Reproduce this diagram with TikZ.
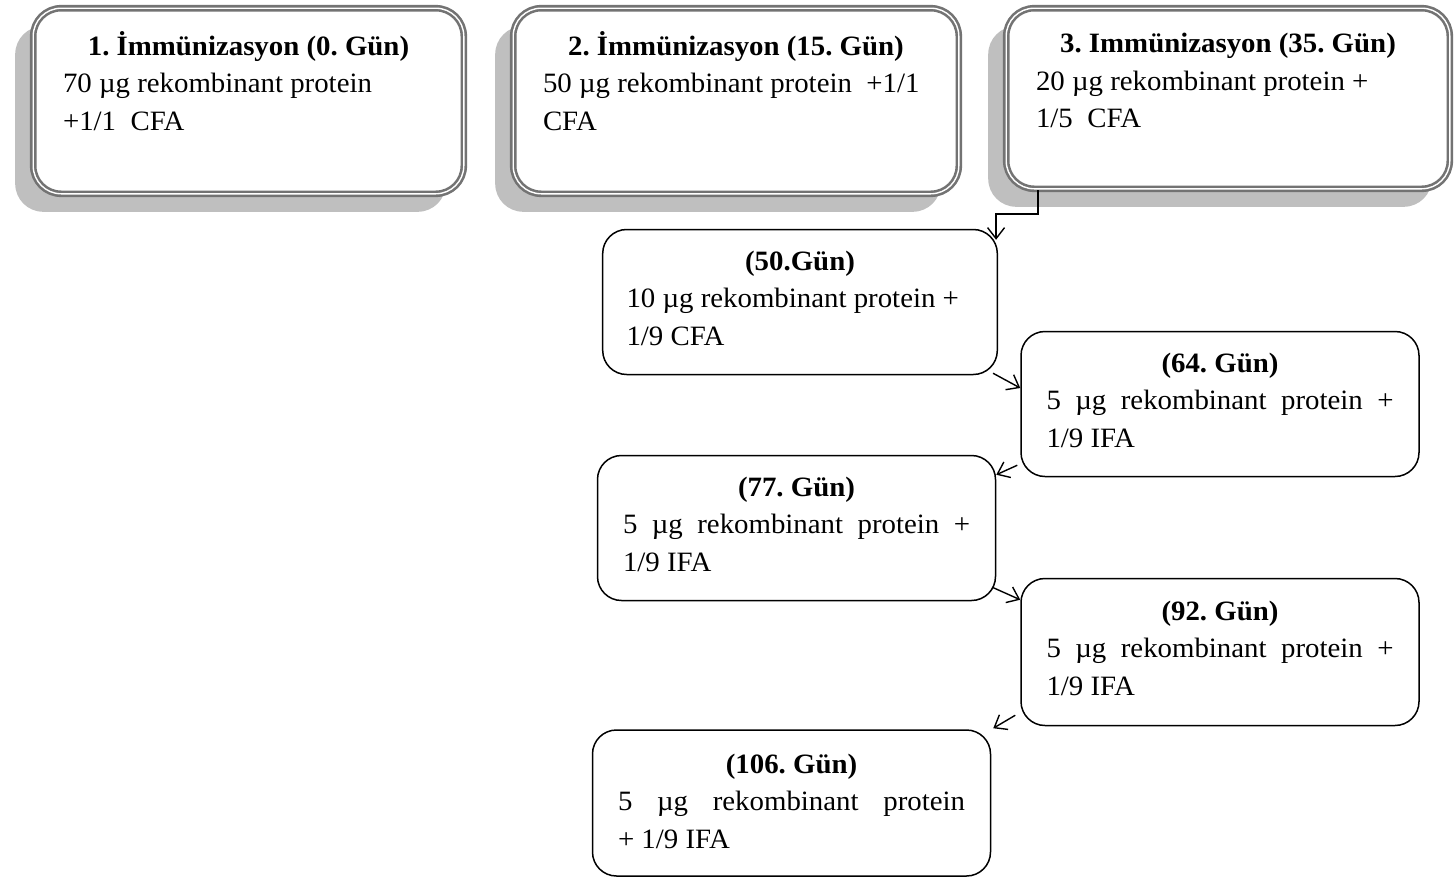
\documentclass[tikz,border=0pt]{standalone}
\usepackage{fontspec}
\setmainfont[FakeStretch=1.03]{Liberation Serif}
\usetikzlibrary{arrows.meta, shadows}
\frenchspacing
\tikzset{
    % first three doses: double grey frame with a shadow to the lower left
    dose main/.style={
        rectangle,
        rounded corners=28pt,
        draw=black!55,
        double=white,
        double distance=1.4pt,
        line width=2.6pt,
        fill=white,
        general shadow={shadow xshift=-18pt, shadow yshift=-18pt, fill=black!25},
        inner sep=0pt,
        minimum height=185.6pt,
        font=\fontsize{28pt}{37.5pt}\selectfont
    },
    % booster doses: plain black frame
    dose/.style={
        rectangle,
        rounded corners=24pt,
        draw=black,
        line width=1.5pt,
        fill=white,
        inner sep=0pt,
        minimum width=398pt,
        minimum height=145pt,
        font=\fontsize{28pt}{37.5pt}\selectfont
    },
    arrow style/.style={
        -{Straight Barb[length=11pt, width=17pt]},
        line width=1.4pt,
        black
    }
}

\begin{document}
\begin{tikzpicture}[x=1pt, y=-1pt]
        \useasboundingbox (0,0) rectangle (1455,878);

        % Immunization boxes at top
        \node[dose main, minimum width=430.6pt] (imm1) at (248.5, 101) {
            \parbox[c][144pt][t]{371pt}{\centering\strut\textbf{1. İmmünizasyon (0. Gün)}\par\raggedright
            70 µg rekombinant protein\\
            +1/1~~CFA}
        };

        \node[dose main, minimum width=445.6pt] (imm2) at (736, 101) {
            \parbox[c][144pt][t]{386pt}{\centering\strut\textbf{2. İmmünizasyon (15. Gün)}\par\raggedright
            50 µg rekombinant protein~~+1/1\\
            CFA}
        };

        \node[dose main, minimum width=443.6pt, minimum height=180.6pt] (imm3) at (1228, 98.5) {
            \parbox[c][144pt][t]{384pt}{\centering\strut\textbf{3. Immünizasyon (35. Gün)}\par\raggedright
            20 µg rekombinant protein +\\
            1/5~~CFA}
        };

        % Booster doses
        \node[dose, minimum width=394.6pt] (day50) at (800, 302) {
            \parbox[c][116pt][t]{347pt}{\centering\strut\textbf{(50.Gün)}\par\raggedright
            10 µg rekombinant protein +\\
            1/9 CFA}
        };

        \node[dose] (day64) at (1220, 404) {
            \parbox[c][116pt][t]{347pt}{\centering\strut\textbf{(64. Gün)}\par\raggedright
            \makebox[\linewidth][s]{5 µg rekombinant protein +}\\
            1/9 IFA}
        };

        \node[dose] (day77) at (796.5, 528) {
            \parbox[c][116pt][t]{347pt}{\centering\strut\textbf{(77. Gün)}\par\raggedright
            \makebox[\linewidth][s]{5 µg rekombinant protein +}\\
            1/9 IFA}
        };

        \node[dose, minimum height=147pt] (day92) at (1220, 652) {
            \parbox[c][116pt][t]{347pt}{\centering\strut\textbf{(92. Gün)}\par\raggedright
            \makebox[\linewidth][s]{5 µg rekombinant protein +}\\
            1/9 IFA}
        };

        \node[dose, minimum height=146pt] (day106) at (791.5, 803) {
            \parbox[c][112pt][t]{347pt}{\centering\strut\textbf{(106. Gün)}\par\raggedright
            \makebox[\linewidth][s]{5 µg rekombinant protein}\\
            + 1/9 IFA}
        };

        % Connection lines
        \draw[arrow style] ([xshift=33pt]imm3.south west) -- ++(0,24) -| ([shift={(-2pt,-11pt)}]day50.north east);
        \draw[arrow style] ([shift={(-5pt,2pt)}]day50.south east) -- ([yshift=16pt]day64.west);
        \draw[arrow style] ([shift={(-3pt,12pt)}]day64.south west) -- ([yshift=-20pt]day77.north east);
        \draw[arrow style] ([shift={(-4pt,14pt)}]day77.south east) -- ([yshift=-22pt]day92.north west);
        \draw[arrow style] ([shift={(-5pt,11pt)}]day92.south west) -- ([shift={(2pt,1pt)}]day106.north east);
    \end{tikzpicture}
\end{document}
